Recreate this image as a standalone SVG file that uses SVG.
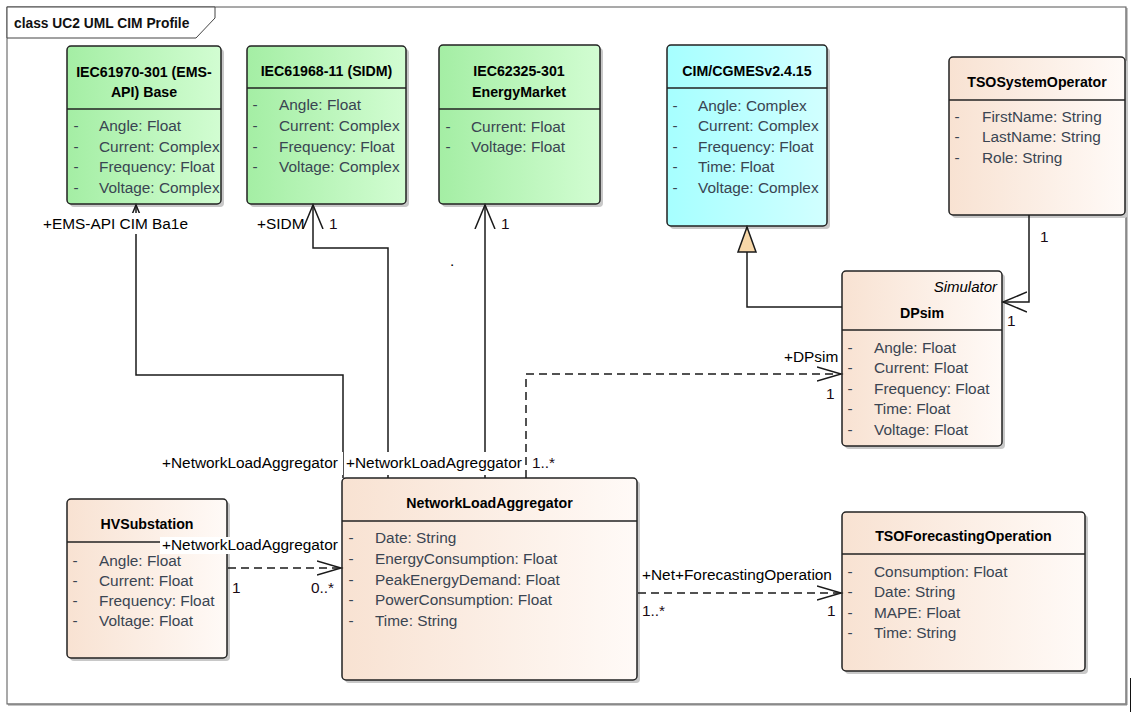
<svg xmlns="http://www.w3.org/2000/svg" width="1133" height="712" viewBox="0 0 1133 712">
<style>
  text { font-family: "Liberation Sans", Arial, sans-serif; }
  .frame { fill: #ffffff; stroke: #555555; stroke-width: 1; }
  .tab { fill: #ffffff; stroke: #444444; stroke-width: 1; }
  .ttl { font-size: 13.8px; font-weight: bold; fill: #111111; }
  .box { stroke: #222222; stroke-width: 1.5; }
  .shadow { fill: #c8c8c8; }
  .sep { stroke: #222222; stroke-width: 1.5; }
  .name { font-size: 14.2px; font-weight: bold; fill: #000000; text-anchor: middle; }
  .stereo { font-size: 15px; font-style: italic; fill: #000000; text-anchor: end; }
  .attr { font-size: 15.4px; fill: #3a4552; }
  .dash { font-size: 15.4px; fill: #3a4552; text-anchor: middle; }
  .green { fill: url(#gGreen); }
  .cyan { fill: url(#gCyan); }
  .beige { fill: url(#gBeige); }
  .conn { fill: none; stroke: #1a1a1a; stroke-width: 1.5; }
  .dashed { stroke-dasharray: 8 5; }
  .lbl { font-size: 15.4px; fill: #000000; }
  .mult { font-size: 15.4px; fill: #1a0a14; }
  .bg { fill: #ffffff; }
</style>
<defs>
  <linearGradient id="gGreen" x1="0" y1="0" x2="1" y2="0">
    <stop offset="0" stop-color="#a4eea4"/>
    <stop offset="1" stop-color="#d2fdd2"/>
  </linearGradient>
  <linearGradient id="gCyan" x1="0" y1="0" x2="1" y2="0">
    <stop offset="0" stop-color="#a6ffff"/>
    <stop offset="1" stop-color="#d2ffff"/>
  </linearGradient>
  <linearGradient id="gBeige" x1="0" y1="0" x2="1" y2="0">
    <stop offset="0" stop-color="#f8e2d2"/>
    <stop offset="1" stop-color="#fffaf7"/>
  </linearGradient>
  <marker id="openW" markerUnits="userSpaceOnUse" viewBox="0 0 30 24" markerWidth="30" markerHeight="24" refX="24" refY="12" orient="auto">
    <path d="M0,2 L24,12 L0,22" fill="none" stroke="#1a1a1a" stroke-width="1.5" stroke-dasharray="none"/>
  </marker>
  <marker id="openN" markerUnits="userSpaceOnUse" viewBox="0 0 30 24" markerWidth="30" markerHeight="24" refX="24" refY="12" orient="auto">
    <path d="M0,5 L24,12 L0,19" fill="none" stroke="#1a1a1a" stroke-width="1.5" stroke-dasharray="none"/>
  </marker>
  <marker id="tri" markerUnits="userSpaceOnUse" viewBox="0 0 28 22" markerWidth="28" markerHeight="22" refX="26" refY="11" orient="auto">
    <path d="M1,2 L26,11 L1,20 Z" fill="#f7d7a8" stroke="#1a1a1a" stroke-width="1.5"/>
  </marker>
</defs>

<rect x="0" y="0" width="1133" height="712" fill="#ffffff"/>

<g id="frame">
  <rect class="frame" x="7" y="7" width="1119" height="697"/>
  <line x1="1126.5" y1="8" x2="1126.5" y2="705" stroke="#8a8a8a" stroke-width="2"/>
  <line x1="8" y1="704.5" x2="1127" y2="704.5" stroke="#8a8a8a" stroke-width="2"/>
  <polygon class="tab" points="7,7 215,7 215,18 196,38 7,38"/>
  <text class="ttl" x="14" y="28">class UC2 UML CIM Profile</text>
  <line x1="1130.5" y1="678" x2="1130.5" y2="712" stroke="#111111" stroke-width="1"/>
</g>

<g id="node-emsapi">
  <rect class="shadow" x="70" y="49" width="154" height="158" rx="4"/>
  <rect class="box green" x="67" y="46" width="154" height="158" rx="4"/>
  <line class="sep" x1="67" y1="109" x2="221" y2="109"/>
  <text class="name" x="144" y="77">IEC61970-301 (EMS-</text>
  <text class="name" x="144" y="97">API) Base</text>
  <text class="dash" x="76" y="131">-</text><text class="attr" x="99" y="131">Angle: Float</text>
  <text class="dash" x="76" y="152">-</text><text class="attr" x="99" y="152">Current: Complex</text>
  <text class="dash" x="76" y="172">-</text><text class="attr" x="99" y="172">Frequency: Float</text>
  <text class="dash" x="76" y="193">-</text><text class="attr" x="99" y="193">Voltage: Complex</text>
</g>

<g id="node-sidm">
  <rect class="shadow" x="250" y="49" width="159" height="158" rx="4"/>
  <rect class="box green" x="247" y="46" width="159" height="158" rx="4"/>
  <line class="sep" x1="247" y1="88" x2="406" y2="88"/>
  <text class="name" x="326.5" y="76">IEC61968-11 (SIDM)</text>
  <text class="dash" x="255" y="110">-</text><text class="attr" x="279" y="110">Angle: Float</text>
  <text class="dash" x="255" y="131">-</text><text class="attr" x="279" y="131">Current: Complex</text>
  <text class="dash" x="255" y="152">-</text><text class="attr" x="279" y="152">Frequency: Float</text>
  <text class="dash" x="255" y="172">-</text><text class="attr" x="279" y="172">Voltage: Complex</text>
</g>

<g id="node-energymarket">
  <rect class="shadow" x="442" y="48" width="161" height="159" rx="4"/>
  <rect class="box green" x="439" y="45" width="161" height="159" rx="4"/>
  <line class="sep" x1="439" y1="109" x2="600" y2="109"/>
  <text class="name" x="519" y="76">IEC62325-301</text>
  <text class="name" x="519" y="97">EnergyMarket</text>
  <text class="dash" x="448" y="132">-</text><text class="attr" x="471" y="132">Current: Float</text>
  <text class="dash" x="448" y="152">-</text><text class="attr" x="471" y="152">Voltage: Float</text>
</g>

<g id="node-cgmes">
  <rect class="shadow" x="670" y="48" width="160" height="181" rx="4"/>
  <rect class="box cyan" x="667" y="45" width="160" height="181" rx="4"/>
  <line class="sep" x1="667" y1="88" x2="827" y2="88"/>
  <text class="name" x="747" y="76">CIM/CGMESv2.4.15</text>
  <text class="dash" x="675" y="111">-</text><text class="attr" x="698" y="111">Angle: Complex</text>
  <text class="dash" x="675" y="131">-</text><text class="attr" x="698" y="131">Current: Complex</text>
  <text class="dash" x="675" y="152">-</text><text class="attr" x="698" y="152">Frequency: Float</text>
  <text class="dash" x="675" y="172">-</text><text class="attr" x="698" y="172">Time: Float</text>
  <text class="dash" x="675" y="193">-</text><text class="attr" x="698" y="193">Voltage: Complex</text>
</g>

<g id="node-tsosystemoperator">
  <rect class="shadow" x="952" y="60" width="176" height="158" rx="4"/>
  <rect class="box beige" x="949" y="57" width="176" height="158" rx="4"/>
  <line class="sep" x1="949" y1="100" x2="1125" y2="100"/>
  <text class="name" x="1037" y="87">TSOSystemOperator</text>
  <text class="dash" x="957" y="122">-</text><text class="attr" x="982" y="122">FirstName: String</text>
  <text class="dash" x="957" y="142">-</text><text class="attr" x="982" y="142">LastName: String</text>
  <text class="dash" x="957" y="163">-</text><text class="attr" x="982" y="163">Role: String</text>
</g>

<g id="node-dpsim">
  <rect class="shadow" x="845" y="274" width="160" height="175" rx="4"/>
  <rect class="box beige" x="842" y="271" width="160" height="175" rx="4"/>
  <line class="sep" x1="842" y1="330" x2="1002" y2="330"/>
  <text class="stereo" x="997" y="292">Simulator</text>
  <text class="name" x="922" y="318">DPsim</text>
  <text class="dash" x="850" y="353">-</text><text class="attr" x="874" y="353">Angle: Float</text>
  <text class="dash" x="850" y="373">-</text><text class="attr" x="874" y="373">Current: Float</text>
  <text class="dash" x="850" y="394">-</text><text class="attr" x="874" y="394">Frequency: Float</text>
  <text class="dash" x="850" y="414">-</text><text class="attr" x="874" y="414">Time: Float</text>
  <text class="dash" x="850" y="435">-</text><text class="attr" x="874" y="435">Voltage: Float</text>
</g>

<g id="node-hvsubstation">
  <rect class="shadow" x="70" y="502" width="160" height="159" rx="4"/>
  <rect class="box beige" x="67" y="499" width="160" height="159" rx="4"/>
  <line class="sep" x1="67" y1="542" x2="227" y2="542"/>
  <text class="name" x="147" y="529">HVSubstation</text>
  <text class="dash" x="75" y="566">-</text><text class="attr" x="99" y="566">Angle: Float</text>
  <text class="dash" x="75" y="586">-</text><text class="attr" x="99" y="586">Current: Float</text>
  <text class="dash" x="75" y="606">-</text><text class="attr" x="99" y="606">Frequency: Float</text>
  <text class="dash" x="75" y="626">-</text><text class="attr" x="99" y="626">Voltage: Float</text>
</g>

<g id="node-networkloadaggregator">
  <rect class="shadow" x="345" y="481" width="295" height="202" rx="4"/>
  <rect class="box beige" x="342" y="478" width="295" height="202" rx="4"/>
  <line class="sep" x1="342" y1="521" x2="637" y2="521"/>
  <text class="name" x="489.5" y="508">NetworkLoadAggregator</text>
  <text class="dash" x="351" y="543">-</text><text class="attr" x="375" y="543">Date: String</text>
  <text class="dash" x="351" y="564">-</text><text class="attr" x="375" y="564">EnergyConsumption: Float</text>
  <text class="dash" x="351" y="585">-</text><text class="attr" x="375" y="585">PeakEnergyDemand: Float</text>
  <text class="dash" x="351" y="605">-</text><text class="attr" x="375" y="605">PowerConsumption: Float</text>
  <text class="dash" x="351" y="626">-</text><text class="attr" x="375" y="626">Time: String</text>
</g>

<g id="node-tsoforecastingoperation">
  <rect class="shadow" x="845" y="515" width="243" height="159" rx="4"/>
  <rect class="box beige" x="842" y="512" width="243" height="159" rx="4"/>
  <line class="sep" x1="842" y1="554" x2="1085" y2="554"/>
  <text class="name" x="963.5" y="541">TSOForecastingOperation</text>
  <text class="dash" x="850" y="577">-</text><text class="attr" x="874" y="577">Consumption: Float</text>
  <text class="dash" x="850" y="597">-</text><text class="attr" x="874" y="597">Date: String</text>
  <text class="dash" x="850" y="618">-</text><text class="attr" x="874" y="618">MAPE: Float</text>
  <text class="dash" x="850" y="638">-</text><text class="attr" x="874" y="638">Time: String</text>
</g>

<g id="connectors">
  <!-- NLA -> EMS-API Base -->
  <path class="conn" d="M343,478 L343,375 L136,375 L136,205" marker-end="url(#openW)"/>
  <!-- NLA -> SIDM -->
  <path class="conn" d="M388,478 L388,248 L313,248 L313,205" marker-end="url(#openW)"/>
  <!-- NLA -> EnergyMarket -->
  <path class="conn" d="M485,478 L485,205" marker-end="url(#openW)"/>
  <!-- NLA -> DPsim (dashed) -->
  <path class="conn dashed" d="M526,478 L526,374 L841,374" marker-end="url(#openN)"/>
  <!-- DPsim generalization to CIM/CGMES -->
  <path class="conn" d="M842,307 L747,307 L747,227" marker-end="url(#tri)"/>
  <!-- TSOSystemOperator -> DPsim -->
  <path class="conn" d="M1029,215 L1029,302 L1003,302" marker-end="url(#openW)"/>
  <!-- HVSubstation -> NLA (dashed) -->
  <path class="conn dashed" d="M228,568 L341,568" marker-end="url(#openN)"/>
  <!-- NLA -> TSOForecastingOperation (dashed) -->
  <path class="conn dashed" d="M638,593 L841,593" marker-end="url(#openN)"/>

  <!-- labels -->
  <rect class="bg" x="41" y="213" width="131" height="21"/>
  <text class="lbl" x="43" y="229">+EMS-API CIM Ba1e</text>

  <text class="lbl" x="257" y="229">+SIDM</text>
  <text class="mult" x="329" y="229">1</text>
  <text class="mult" x="501" y="229">1</text>
  <text class="lbl" x="450" y="266">.</text>

  <rect class="bg" x="160" y="452" width="183" height="23"/>
  <text class="lbl" x="162" y="468">+NetworkLoadAggregator</text>
  <rect class="bg" x="344" y="452" width="179" height="23"/>
  <text class="lbl" x="346" y="468">+NetworkLoadAgreggator</text>
  <text class="mult" x="532" y="468">1..*</text>

  <text class="lbl" x="784" y="362">+DPsim</text>
  <text class="mult" x="826" y="399">1</text>

  <text class="mult" x="1040" y="242">1</text>
  <text class="mult" x="1007" y="326">1</text>

  <rect class="bg" x="160" y="537" width="178" height="17"/>
  <text class="lbl" x="162" y="550">+NetworkLoadAggregator</text>
  <text class="mult" x="232" y="593">1</text>
  <text class="mult" x="311" y="593">0..*</text>

  <text class="lbl" x="642" y="580">+Net+ForecastingOperation</text>
  <text class="mult" x="642" y="616">1..*</text>
  <text class="mult" x="827" y="616">1</text>
</g>
</svg>
